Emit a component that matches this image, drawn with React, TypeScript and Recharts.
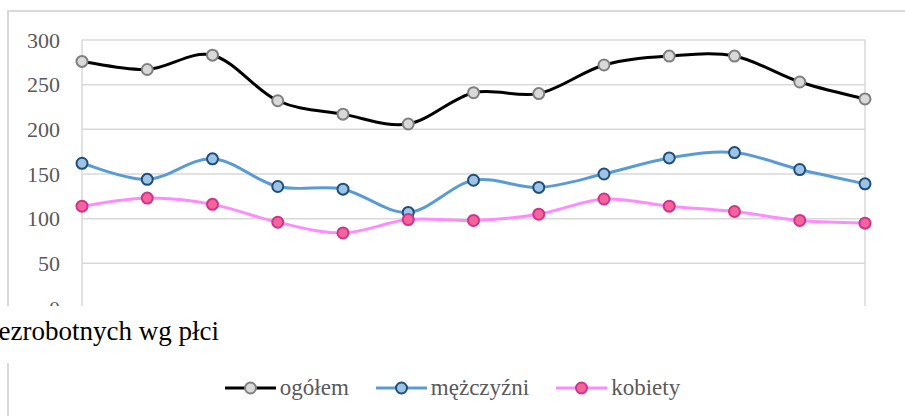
import { LineChart, Line, XAxis, YAxis, CartesianGrid, Legend } from 'recharts';

const months = [
  'XII 2015', 'I 2016', 'II 2016', 'III 2016', 'IV 2016', 'V 2016', 'VI 2016',
  'VII 2016', 'VIII 2016', 'IX 2016', 'X 2016', 'XI 2016', 'XII 2016',
];
const ogolem = [276, 267, 283, 232, 217, 206, 241, 240, 272, 282, 282, 253, 234];
const mezczyzni = [162, 144, 167, 136, 133, 107, 143, 135, 150, 168, 174, 155, 139];
const kobiety = [114, 123, 116, 96, 84, 99, 98, 105, 122, 114, 108, 98, 95];
const yTicks = [0, 50, 100, 150, 200, 250, 300];

const SERIES = [
  { key: 'ogolem', name: 'ogółem', line: '#000000', fill: '#d9d9d9', edge: '#7f7f7f' },
  { key: 'mezczyzni', name: 'mężczyźni', line: '#5b9bd5', fill: '#9dc3e6', edge: '#1f4e79' },
  { key: 'kobiety', name: 'kobiety', line: '#ff8cff', fill: '#f5639c', edge: '#d0338a' },
];

const data = months.map((m, i) => ({
  month: m,
  ogolem: ogolem[i],
  mezczyzni: mezczyzni[i],
  kobiety: kobiety[i],
}));

const FONT = "'Liberation Serif', 'DejaVu Serif', serif";

// excel-like smoothing (catmull-rom through the points)
function smoothCurve(context: any) {
  let pts: number[][] = [];
  return {
    areaStart() {},
    areaEnd() {},
    lineStart() {
      pts = [];
    },
    point(x: number, y: number) {
      pts.push([+x, +y]);
    },
    lineEnd() {
      if (!pts.length) return;
      context.moveTo(pts[0][0], pts[0][1]);
      for (let i = 0; i < pts.length - 1; i++) {
        const p0 = pts[Math.max(i - 1, 0)];
        const p1 = pts[i];
        const p2 = pts[i + 1];
        const p3 = pts[Math.min(i + 2, pts.length - 1)];
        context.bezierCurveTo(
          p1[0] + (p2[0] - p0[0]) / 6,
          p1[1] + (p2[1] - p0[1]) / 6,
          p2[0] - (p3[0] - p1[0]) / 6,
          p2[1] - (p3[1] - p1[1]) / 6,
          p2[0],
          p2[1],
        );
      }
    },
  };
}

function ChartLegend() {
  return (
    <div style={{ display: 'flex', justifyContent: 'center', alignItems: 'center', gap: 27, height: 30 }}>
      {SERIES.map((s) => (
        <div key={s.key} style={{ display: 'flex', alignItems: 'center' }}>
          <svg width={51} height={16}>
            <line x1={0} y1={8} x2={51} y2={8} stroke={s.line} strokeWidth={3} />
            <circle cx={25.5} cy={8} r={5.5} fill={s.fill} stroke={s.edge} strokeWidth={2} />
          </svg>
          <span style={{ marginLeft: 4, fontSize: 23, color: '#595959', fontFamily: FONT, lineHeight: '30px' }}>
            {s.name}
          </span>
        </div>
      ))}
    </div>
  );
}

export default function App() {
  return (
    <div
      style={{
        position: 'absolute',
        left: 0,
        top: 0,
        width: 905,
        height: 416,
        overflow: 'hidden',
        background: '#fff',
        fontFamily: FONT,
      }}
    >
      {/* chart frame */}
      <div
        style={{
          position: 'absolute',
          left: 7,
          top: 10,
          width: 1000,
          height: 500,
          borderTop: '2px solid #d9d9d9',
          borderLeft: '2px solid #d9d9d9',
        }}
      />
      <div style={{ position: 'absolute', left: 0, top: 0 }}>
        <LineChart width={905} height={416} data={data} margin={{ top: 40, right: 40, left: 0, bottom: 48 }}>
          <CartesianGrid stroke="#d9d9d9" strokeWidth={1.5} />
          <XAxis dataKey="month" height={30} tick={false} axisLine={false} tickLine={false} />
          <YAxis
            width={82}
            domain={[0, 300]}
            ticks={yTicks}
            axisLine={false}
            tickLine={false}
            tickSize={0}
            tickMargin={22}
            tick={{ fontSize: 22, fill: '#595959', fontFamily: FONT }}
          />
          <Legend
            verticalAlign="bottom"
            wrapperStyle={{ height: 30, bottom: 13, left: 0, width: 905 }}
            content={() => <ChartLegend />}
          />
          {SERIES.map((s) => (
            <Line
              key={s.key}
              dataKey={s.key}
              name={s.name}
              type={smoothCurve as any}
              stroke={s.line}
              strokeWidth={3}
              dot={{ r: 5.5, fill: s.fill, stroke: s.edge, strokeWidth: 2 }}
              isAnimationActive={false}
            />
          ))}
        </LineChart>
      </div>
      {/* page text between the cropped chart and its legend */}
      <div
        style={{
          position: 'absolute',
          left: 0,
          top: 306,
          width: 905,
          height: 57,
          background: '#fff',
        }}
      >
        <div
          style={{
            position: 'absolute',
            right: 905 - 219,
            top: 10,
            whiteSpace: 'nowrap',
            fontSize: 27,
            lineHeight: '30px',
            color: '#000',
            fontFamily: FONT,
          }}
        >
          Liczba bezrobotnych wg płci
        </div>
      </div>
    </div>
  );
}
